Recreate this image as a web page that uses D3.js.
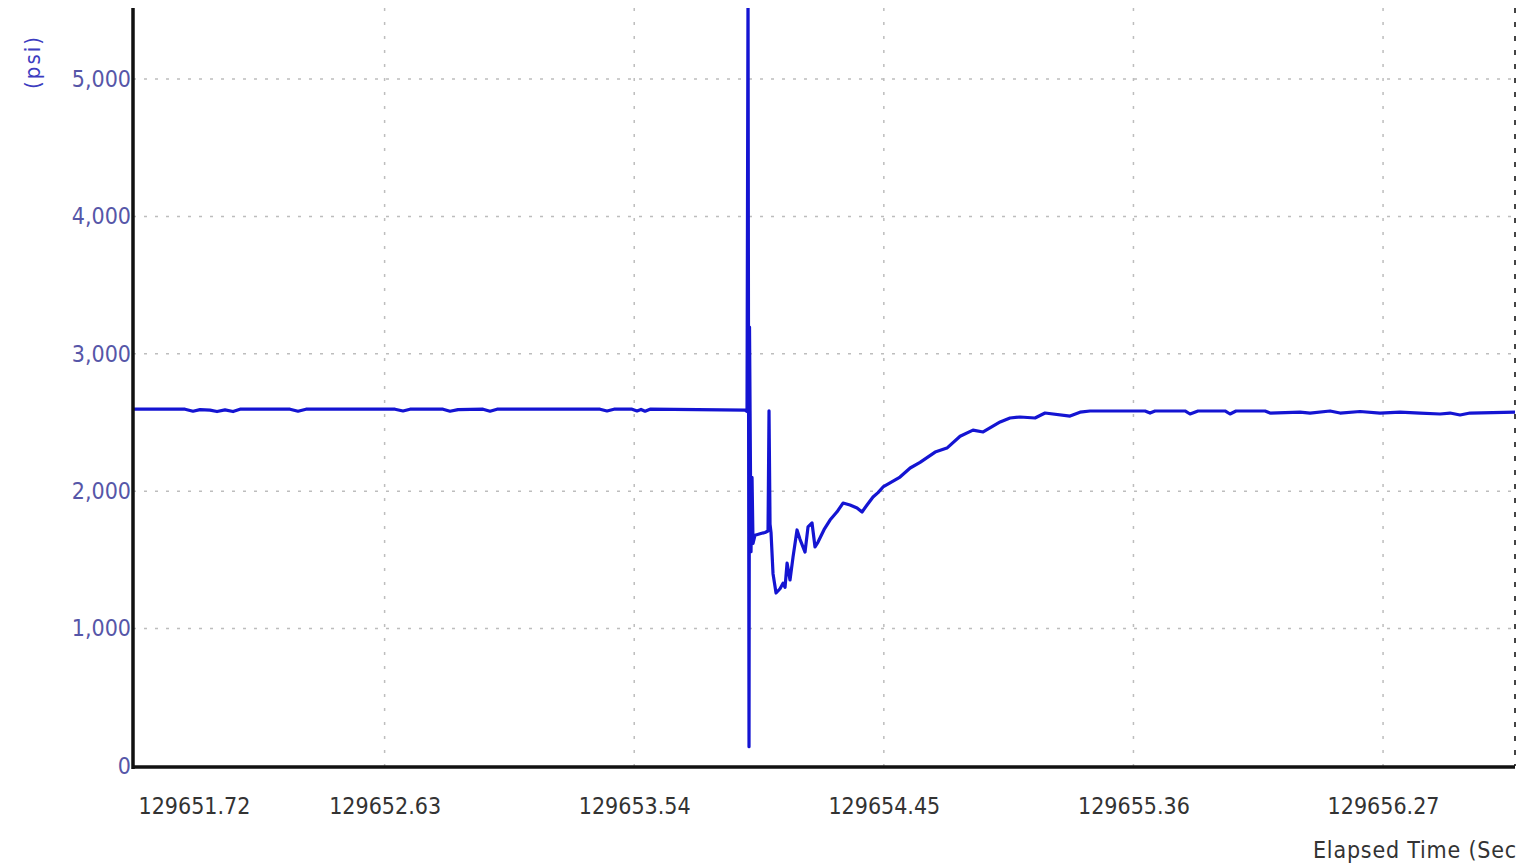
<!DOCTYPE html>
<html>
<head>
<meta charset="utf-8">
<script src="https://cdn.jsdelivr.net/npm/d3@7"></script>
<style>
  html, body { margin: 0; padding: 0; background: #fff; overflow: hidden; }
  svg { display: block; }
</style>
</head>
<body>
<svg id="chart" width="1522" height="866"></svg>
<script>
// ---- data ----
const xTickValues = [129651.72, 129652.63, 129653.54, 129654.45, 129655.36, 129656.27];
const xTickLabels = ["129651.72", "129652.63", "129653.54", "129654.45", "129655.36", "129656.27"];
const yTickValues = [0, 1000, 2000, 3000, 4000, 5000];
const yTickLabels = ["0", "1,000", "2,000", "3,000", "4,000", "5,000"];
const xDomain = [129651.7127, 129656.751];
const yDomain = [0, 5517];
const yAxisTitle = "(psi)";
const xAxisTitle = "Elapsed Time (Seconds)";

const timeSec = [
  129651.7127, 129651.9023, 129651.9315, 129651.9570, 129651.9934, 129652.0190, 129652.0481,
  129652.0773, 129652.1028, 129652.2851, 129652.3143, 129652.3434, 129652.6679, 129652.6971,
  129652.7226, 129652.8429, 129652.8684, 129652.8976, 129652.9887, 129653.0143, 129653.0398,
  129653.4153, 129653.4408, 129653.4663, 129653.5320, 129653.5502, 129653.5648, 129653.5794,
  129653.5976, 129653.9439,
  129653.9512, 129653.9549, 129653.9585, 129653.9603, 129653.9658, 129653.9695, 129653.9731,
  129653.9804, 129653.9986, 129654.0169, 129654.0278, 129654.0314, 129654.0351, 129654.0387,
  129654.0460, 129654.0570, 129654.0715, 129654.0825, 129654.0898, 129654.0972, 129654.1079,
  129654.1189, 129654.1335, 129654.1444, 129654.1627, 129654.1736, 129654.1882, 129654.1991,
  129654.2101, 129654.2319, 129654.2538, 129654.2794, 129654.3012, 129654.3267, 129654.3523,
  129654.3705, 129654.3887, 129654.4106, 129654.4288, 129654.4471, 129654.4726, 129654.5090,
  129654.546, 129654.582, 129654.637, 129654.680, 129654.728, 129654.775, 129654.812,
  129654.874, 129654.910, 129654.9465, 129655.0012, 129655.0377, 129655.1288, 129655.1653,
  129655.2017, 129655.4023, 129655.4205, 129655.4387, 129655.5481, 129655.5663, 129655.5955,
  129655.6939, 129655.7122, 129655.7340, 129655.8398, 129655.8580, 129655.9674, 129656.0038,
  129656.0767, 129656.1132, 129656.1861, 129656.2590, 129656.3319, 129656.4049, 129656.4778,
  129656.5142, 129656.5507, 129656.5871, 129656.751
];
const pressurePsi = [
  2597, 2597, 2582, 2594, 2590, 2580, 2592,
  2580, 2597, 2597, 2582, 2597, 2597, 2584,
  2597, 2597, 2582, 2594, 2597, 2582, 2597,
  2597, 2584, 2597, 2597, 2584, 2595, 2582,
  2597, 2590,
  2580, 5700, 140, 3195, 1560, 2100, 1620,
  1680, 1690, 1700, 1710, 2585, 1760, 1700,
  1400, 1259, 1290, 1330, 1300, 1477, 1354,
  1520, 1718, 1650, 1557, 1740, 1769, 1594,
  1630, 1720, 1790, 1850, 1914, 1900, 1878,
  1849, 1900, 1958, 1990, 2031, 2060, 2103,
  2169, 2210, 2285, 2314, 2400, 2445, 2431,
  2504, 2533, 2540, 2533, 2569, 2547, 2575,
  2584, 2584, 2569, 2584, 2584, 2562, 2584,
  2584, 2562, 2584, 2584, 2569, 2575, 2569,
  2584, 2569, 2580, 2569, 2575, 2569, 2562,
  2569, 2555, 2569, 2575
];

// ---- layout ----
const W = 1522, H = 866;
const plot = { left: 133, right: 1515, top: 8, bottom: 766 };
const FONT = "'DejaVu Sans Condensed', 'DejaVu Sans', sans-serif";

const svg = d3.select("#chart");
const x = d3.scaleLinear().domain(xDomain).range([plot.left, plot.right]);
const y = d3.scaleLinear().domain(yDomain).range([plot.bottom, plot.top]);

const defs = svg.append("defs");
defs.append("clipPath").attr("id", "plotClip")
  .append("rect").attr("x", plot.left).attr("y", plot.top)
  .attr("width", plot.right - plot.left).attr("height", plot.bottom - plot.top);
defs.append("clipPath").attr("id", "pageClip")
  .append("rect").attr("x", 0).attr("y", 0).attr("width", 1516).attr("height", H);

// grid: horizontal
svg.append("g")
  .selectAll("line")
  .data(yTickValues.filter(v => v > 0))
  .join("line")
  .attr("x1", plot.left).attr("x2", plot.right)
  .attr("y1", d => y(d)).attr("y2", d => y(d))
  .attr("stroke", "#bdbdbd").attr("stroke-width", 1.5)
  .attr("stroke-dasharray", "3,8");

// grid: vertical
svg.append("g")
  .selectAll("line")
  .data(xTickValues.slice(1))
  .join("line")
  .attr("x1", d => x(d)).attr("x2", d => x(d))
  .attr("y1", plot.top).attr("y2", plot.bottom)
  .attr("stroke", "#bdbdbd").attr("stroke-width", 1.5)
  .attr("stroke-dasharray", "3,11");

// right dotted border
svg.append("line")
  .attr("x1", plot.right).attr("x2", plot.right)
  .attr("y1", plot.top).attr("y2", plot.bottom)
  .attr("stroke", "#444").attr("stroke-width", 2)
  .attr("stroke-dasharray", "5,9");

// data line
const pts = timeSec.map((t, i) => [t, pressurePsi[i]]);
const line = d3.line().x(d => x(d[0])).y(d => y(d[1]));
svg.append("path")
  .attr("clip-path", "url(#plotClip)")
  .datum(pts)
  .attr("d", line)
  .attr("fill", "none")
  .attr("stroke", "#1414d2")
  .attr("stroke-width", 3.2)
  .attr("stroke-linejoin", "round");

// axes (drawn with d3 axis generators, then styled)
const yAxis = d3.axisLeft(y).tickValues(yTickValues)
  .tickFormat((d, i) => yTickLabels[i]).tickSize(0).tickPadding(2);
const gy = svg.append("g").attr("transform", `translate(${plot.left},0)`).call(yAxis);
gy.select(".domain").remove();
gy.selectAll("text")
  .attr("font-family", FONT).attr("font-size", 23)
  .attr("fill", "#5656a8");

const xAxis = d3.axisBottom(x).tickValues(xTickValues)
  .tickFormat((d, i) => xTickLabels[i]).tickSize(0).tickPadding(0);
const gx = svg.append("g").attr("transform", `translate(0,${plot.bottom})`).call(xAxis);
gx.select(".domain").remove();
gx.selectAll("text")
  .attr("font-family", FONT).attr("font-size", 23)
  .attr("fill", "#333")
  .attr("dy", null)
  .attr("y", 48);
gx.selectAll(".tick").filter((d, i) => i === 0).select("text")
  .attr("text-anchor", "start").attr("x", 138 - x(xTickValues[0]));

// axis lines
svg.append("line")
  .attr("x1", plot.left).attr("x2", plot.left)
  .attr("y1", plot.top).attr("y2", plot.bottom + 3)
  .attr("stroke", "#111").attr("stroke-width", 3.5);
svg.append("line")
  .attr("x1", plot.left).attr("x2", plot.right)
  .attr("y1", plot.bottom + 1).attr("y2", plot.bottom + 1)
  .attr("stroke", "#111").attr("stroke-width", 3.5);

// titles
svg.append("text")
  .attr("transform", "translate(40,62) rotate(-90)")
  .attr("text-anchor", "middle")
  .attr("font-family", FONT).attr("font-size", 22)
  .attr("letter-spacing", 2)
  .attr("fill", "#3c3cc0")
  .text(yAxisTitle);

svg.append("g").attr("clip-path", "url(#pageClip)")
  .append("text")
  .attr("x", 1313).attr("y", 858)
  .attr("font-family", FONT).attr("font-size", 23)
  .attr("letter-spacing", 0.8)
  .attr("fill", "#333")
  .text(xAxisTitle);
</script>
</body>
</html>
